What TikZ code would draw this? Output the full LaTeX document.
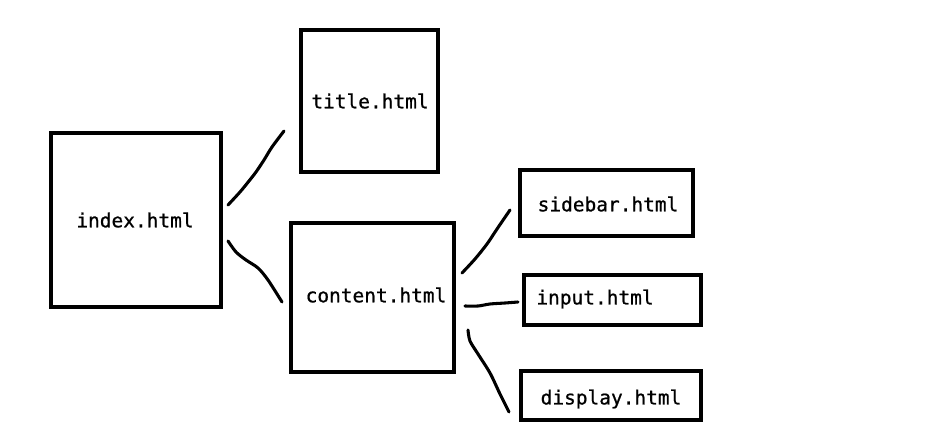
\documentclass[tikz,border=0pt]{standalone}
\usepackage{fontspec}
\setmonofont[FakeBold=0.8,AutoFakeBold=0.8]{DejaVu Sans Mono}
\begin{document}
\begin{tikzpicture}[x=0.75pt,y=-0.75pt,
  box/.style={draw=black,line width=2.3pt,minimum width=#1,inner sep=0pt},
  lbl/.style={font=\ttfamily\fontsize{14.6pt}{16pt}\selectfont,inner sep=0pt,text=black},
  link/.style={draw=black,line width=2.3pt,line cap=round,line join=round}]
\useasboundingbox[fill=white] (0,0) rectangle (941,434);
% boxes (width, height in pt)
\node[box=127.5pt,minimum height=130.5pt] (index) at (136,220) {};
\node[box=102.75pt,minimum height=106.5pt] (title) at (369.5,101) {};
\node[box=122.25pt,minimum height=111.75pt] (content) at (372.5,297.5) {};
\node[box=129.75pt,minimum height=49.5pt] (sidebar) at (606.5,203) {};
\node[box=132.75pt,minimum height=37.5pt] (input) at (612.5,300) {};
\node[box=135pt,minimum height=36.75pt] (display) at (611,395.5) {};
% labels
\node[lbl] (indext) at (135,220) {index.html};
\node[lbl] (titlet) at (370,101) {title.html};
\node[lbl] (contentt) at (376,295) {content.html};
\node[lbl] (sidebart) at (608,204) {sidebar.html};
\node[lbl] (inputt) at (595,299) {input.html};
\node[lbl] (displayt) at (611,399) {display.html};
% connector end points
\coordinate (a1) at (228,205); \coordinate (b1) at (284,131);
\coordinate (a2) at (228,241); \coordinate (b2) at (282,302);
\coordinate (a3) at (462,273); \coordinate (b3) at (510,210);
\coordinate (a4) at (465,306); \coordinate (b4) at (518,302);
\coordinate (a5) at (468,330); \coordinate (b5) at (509,412);
% hand-drawn connectors
\draw[link] plot[smooth,tension=0.5] coordinates {(a1) (240,192) (249,181) (256,172) (264,160) (272,147) (b1)};
\draw[link] plot[smooth,tension=0.5] coordinates {(a2) (236,252) (246,260) (258,268) (268,280) (b2)};
\draw[link] plot[smooth,tension=0.5] coordinates {(a3) (475,259) (487,244) (497,229) (b3)};
\draw[link] plot[smooth,tension=0.5] coordinates {(a4) (478,306) (490,304) (505,303) (b4)};
\draw[link] plot[smooth,tension=0.5] coordinates {(a5) (470,341) (478,354) (490,373) (500,394) (b5)};
\end{tikzpicture}
\end{document}
